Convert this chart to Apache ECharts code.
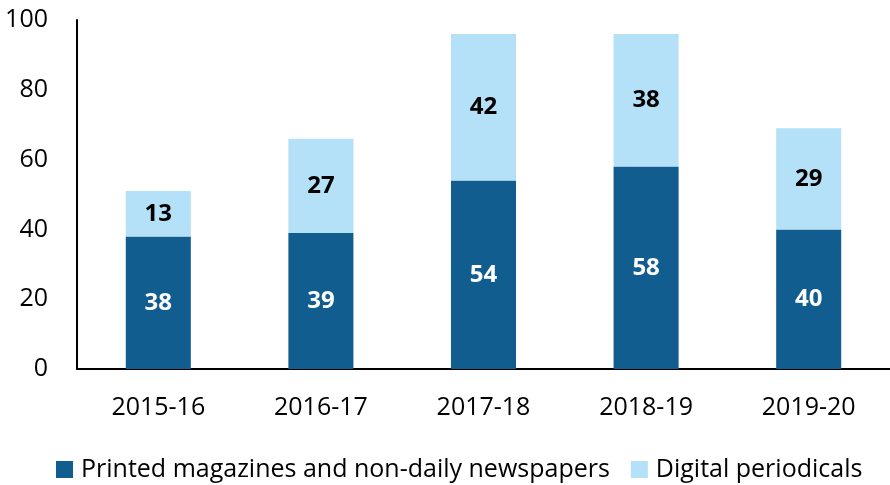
<!DOCTYPE html>
<html>
<head>
<meta charset="utf-8">
<script src="https://cdn.jsdelivr.net/npm/echarts@6/dist/echarts.min.js"></script>
<style>
  html, body { margin: 0; padding: 0; background: #fff; }
  #chart { width: 890px; height: 485px; }
</style>
</head>
<body>
<div id="chart"></div>
<script>
var years = ['2015-16', '2016-17', '2017-18', '2018-19', '2019-20'];
var printed = [38, 39, 54, 58, 40];
var digital = [13, 27, 42, 38, 29];
var yTicks = { min: 0, max: 100, interval: 20 };

var font = '"Open Sans", "Noto Sans", sans-serif';

var chart = echarts.init(document.getElementById('chart'));
chart.setOption({
  animation: false,
  textStyle: { fontFamily: font },
  grid: { left: 77, right: 0, top: 20, bottom: 116 },
  legend: {
    top: 452,
    left: 51,
    itemWidth: 17,
    itemHeight: 17,
    itemGap: 21,
    icon: 'rect',
    textStyle: { fontSize: 25, color: '#000', fontFamily: font, padding: [0, 0, 0, 3] },
    data: ['Printed magazines and non-daily newspapers', 'Digital periodicals']
  },
  xAxis: {
    type: 'category',
    data: years,
    axisLine: { lineStyle: { color: '#000', width: 2 } },
    axisTick: { show: false },
    axisLabel: { fontSize: 25, color: '#000', margin: 26 }
  },
  yAxis: {
    type: 'value',
    min: yTicks.min,
    max: yTicks.max,
    interval: yTicks.interval,
    splitLine: { show: false },
    axisLine: { show: true, lineStyle: { color: '#000', width: 2 } },
    axisTick: { show: false },
    axisLabel: { fontSize: 25, color: '#000', margin: 29 }
  },
  series: [
    {
      name: 'Printed magazines and non-daily newspapers',
      type: 'bar',
      stack: 'a',
      barWidth: '40%',
      data: printed,
      itemStyle: { color: '#125D8F' },
      label: { show: true, position: 'inside', color: '#fff', fontSize: 24, fontWeight: 'bold' }
    },
    {
      name: 'Digital periodicals',
      type: 'bar',
      stack: 'a',
      barWidth: '40%',
      data: digital,
      itemStyle: { color: '#B4E1F8' },
      label: { show: true, position: 'inside', color: '#000', fontSize: 24, fontWeight: 'bold' }
    }
  ]
});
</script>
</body>
</html>
